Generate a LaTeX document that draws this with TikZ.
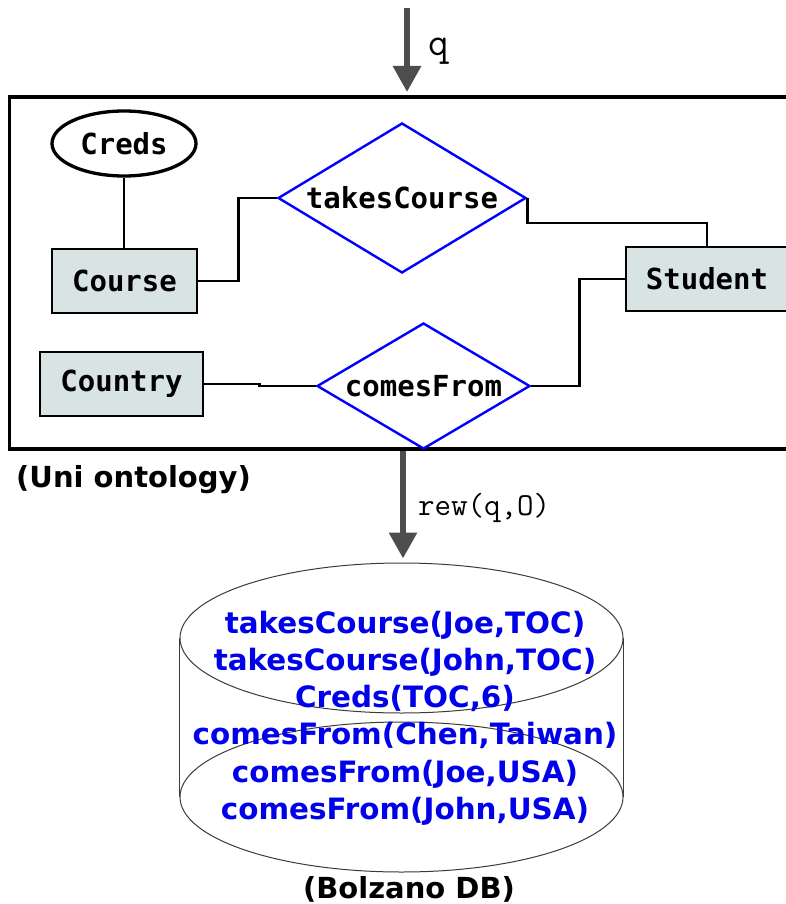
\documentclass[tikz,border=0pt]{standalone}
\usepackage{fontspec}
\setmainfont{DejaVu Sans}
\newfontfamily\ermono{DejaVu Sans Mono}
\usetikzlibrary{shapes.geometric,arrows.meta}
\definecolor{entfill}{RGB}{216,228,228}
\definecolor{relblue}{RGB}{0,0,255}
\definecolor{dbblue}{RGB}{0,0,235}
\definecolor{arrowgray}{RGB}{77,77,77}
\definecolor{dbstroke}{RGB}{60,60,50}
\begin{document}
\begin{tikzpicture}[x=1pt,y=-1pt,
  erfont/.style={font=\ermono\bfseries\fontsize{29}{34}\selectfont},
  entity/.style={draw=black, line width=2.6pt, fill=entfill, minimum height=64pt, inner sep=0pt, erfont},
  attribute/.style={ellipse, draw=black, line width=3.3pt, fill=white, minimum width=144pt, minimum height=65pt, inner sep=0pt, erfont},
  relation/.style={diamond, draw=relblue, line width=2.4pt, fill=white, inner sep=0pt, erfont},
  conn/.style={line width=2.8pt, black},
  bigarrow/.style={draw=arrowgray, line width=6pt, -{Triangle[width=27pt,length=26pt]}},
  dbshape/.style={ellipse, draw=dbstroke, line width=1pt, minimum width=443pt, minimum height=150pt, inner sep=0pt},
  dbtext/.style={font=\bfseries\fontsize{29.4}{35}\selectfont, text=dbblue, anchor=base, inner sep=0pt},
  caption/.style={font=\bfseries\fontsize{29}{35}\selectfont, inner sep=0pt}
]
\useasboundingbox (0,0) rectangle (785,904);
\fill[white] (0,0) rectangle (785,904);

% ontology frame
\node[draw=black, line width=3.5pt, minimum width=781pt, minimum height=352pt, anchor=north west, outer sep=0pt, inner sep=0pt] (onto) at (9.5,97) {};

% query arrow
\coordinate (qs) at (407,8);
\draw[bigarrow, shorten >=5pt] (qs) -- (qs |- onto.north);
\node[font=\ttfamily\fontsize{40}{44}\selectfont, anchor=base west, inner sep=0pt] (qlab) at (428,56) {q};

% ER diagram
\node[attribute] (creds) at (124,143.5) {Creds};
\node[entity, minimum width=145pt] (course) at (124.5,281) {Course};
\node[entity, minimum width=163pt] (country) at (121.5,384) {Country};
\node[entity, minimum width=162pt] (student) at (707,279) {Student};
\node[relation, minimum width=248pt, minimum height=150pt] (takes) at (402,198) {\makebox[0pt]{takesCourse}};
\node[relation, minimum width=213pt, minimum height=126pt] (comes) at (423.5,386) {\makebox[0pt]{comesFrom}};

\draw[conn] (creds.south) -- (creds.south |- course.north);
\draw[conn] (course.east) -- ++(40,0) |- (takes.west);
\draw[conn] (takes.east) -- ++(0,25) -| (student.north);
\draw[conn] (country.east) -- ++(55,0) |- (comes.west);
\draw[conn] (comes.east) -- ++(48,0) |- (student.west);

\node[caption, anchor=base west] (unilab) at (16,487) {(Uni ontology)};

% rewriting arrow
\coordinate (rs) at (403,451);
\node[dbshape] (dbtop) at (401.5,638) {};
\node[dbshape] (dbbot) at (401.5,797) {};
\draw[dbstroke, line width=1pt] (dbtop.west) -- (dbbot.west);
\draw[dbstroke, line width=1pt] (dbtop.east) -- (dbbot.east);
\draw[bigarrow, shorten >=4pt] (rs) -- (rs |- dbtop.north);
\node[font=\ttfamily\fontsize{32}{36}\selectfont, anchor=base west, inner sep=0pt] (rewlab) at (418,515) {rew(q,O)};

% database facts
\node[dbtext] (db1) at (405,633) {takesCourse(Joe,TOC)};
\node[dbtext] (db2) at (405,670) {takesCourse(John,TOC)};
\node[dbtext] (db3) at (405,707) {Creds(TOC,6)};
\node[dbtext] (db4) at (405,744) {comesFrom(Chen,Taiwan)};
\node[dbtext] (db5) at (405,782) {comesFrom(Joe,USA)};
\node[dbtext] (db6) at (405,819) {comesFrom(John,USA)};

\node[caption, anchor=base] (dblab) at (409,898) {(Bolzano DB)};
\end{tikzpicture}
\end{document}
